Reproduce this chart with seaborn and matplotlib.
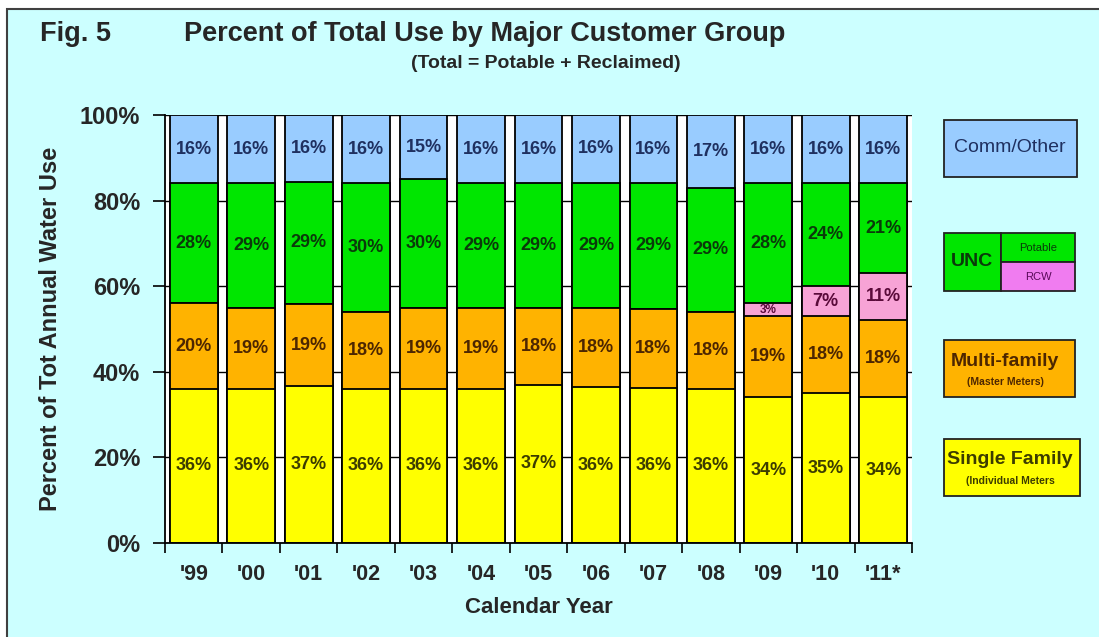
import matplotlib
matplotlib.use("Agg")
import matplotlib.pyplot as plt
from matplotlib.patches import Rectangle
import numpy as np
import pandas as pd
import seaborn as sns

# ---- data (percent of total annual water use) ----
years = ["'99", "'00", "'01", "'02", "'03", "'04", "'05", "'06", "'07", "'08", "'09", "'10", "'11*"]
single_family = [36, 36, 36.6, 36, 36, 36, 37, 36.4, 36.3, 36, 34, 35, 34]
multi_family = [20, 19, 19.2, 18, 19, 19, 18, 18.4, 18.4, 18, 19, 18, 18]
unc_rcw = [0, 0, 0, 0, 0, 0, 0, 0, 0, 0, 3, 7, 11]
unc_potable = [28, 29, 28.6, 30, 30, 29, 29, 29.4, 29.4, 29, 28, 24, 21]
comm_other = [16, 16, 15.6, 16, 15, 16, 16, 15.8, 15.9, 17, 16, 16, 16]
y_ticks = [0, 20, 40, 60, 80, 100]

W, H = 1099, 637
sns.set_theme(style="white")
plt.rcParams["font.family"] = ["Liberation Sans", "DejaVu Sans"]
NARROW = ["Liberation Sans Narrow", "Liberation Sans", "DejaVu Sans"]

BG = "#CCFFFF"
C_SF, C_MF, C_RCW, C_UNC, C_COMM = "#FFFF00", "#FFB300", "#F7A3D6", "#00E600", "#99CCFF"
T_SF, T_MF, T_RCW, T_UNC, T_COMM = "#3C3C00", "#4D2600", "#5A0A3A", "#0A3A0A", "#1F3060"

fig = plt.figure(figsize=(W / 100, H / 100), dpi=100, facecolor="white")


def fx(x):
    return x / W


def fy(y):
    return 1 - y / H


# panel background with its frame
fig.patches.append(Rectangle((fx(7), -0.02), 1.1, fy(9) + 0.02, transform=fig.transFigure,
                             facecolor=BG, edgecolor="#404040", linewidth=1.5, zorder=-5))

left, right, top, bottom = 165, 912, 115, 543
ax = fig.add_axes([fx(left), fy(bottom), fx(right) - fx(left), fy(top) - fy(bottom)])
ax.set_facecolor("white")

df = pd.DataFrame({
    "year": years,
    "sf": single_family,
    "mf": multi_family,
    "rcw": unc_rcw,
    "unc": unc_potable,
    "comm": comm_other,
})
df["c_sf"] = df["sf"]
df["c_mf"] = df["c_sf"] + df["mf"]
df["c_rcw"] = df["c_mf"] + df["rcw"]
df["c_unc"] = df["c_rcw"] + df["unc"]
df["c_comm"] = df["c_unc"] + df["comm"]

# stacked bars: draw cumulative totals from the top layer downwards
layers = [("c_comm", C_COMM), ("c_unc", C_UNC), ("c_rcw", C_RCW), ("c_mf", C_MF), ("c_sf", C_SF)]
for col, color in layers:
    sns.barplot(data=df, x="year", y=col, color=color, saturation=1, width=0.83,
                edgecolor="black", linewidth=1.3, errorbar=None, ax=ax, order=years)

# segment labels
segments = [("sf", "c_sf", T_SF), ("mf", "c_mf", T_MF), ("rcw", "c_rcw", T_RCW),
            ("unc", "c_unc", T_UNC), ("comm", "c_comm", T_COMM)]
for i in range(len(years)):
    for val_col, cum_col, tcol in segments:
        v = df.loc[i, val_col]
        if v <= 0:
            continue
        top_v = df.loc[i, cum_col]
        size = 8.5 if v < 5 else 13
        ax.text(i, top_v - v / 2, f"{v:.0f}%", ha="center", va="center",
                fontsize=size, fontweight="bold", color=tcol, zorder=5)

ax.set_ylim(0, 100)
ax.set_xlim(-0.5, len(years) - 0.5)
ax.set_yticks(y_ticks)
ax.set_yticklabels([f"{t}%" for t in y_ticks], fontsize=17, fontweight="bold")
ax.yaxis.grid(True, color="black", linewidth=1.0)
ax.xaxis.grid(False)
ax.set_axisbelow(True)
ax.tick_params(axis="y", direction="out", length=9, width=1.2, color="black", pad=9, left=True)

ax.set_xticks(range(len(years)))
ax.set_xticklabels(years, fontsize=15.5, fontweight="bold", family=NARROW)
ax.set_xticks(np.arange(-0.5, len(years), 1.0), minor=True)
ax.tick_params(axis="x", which="major", length=0, pad=15)
ax.tick_params(axis="x", which="minor", direction="out", length=7, width=1.2, color="black", bottom=True)

for s in ["top", "right"]:
    ax.spines[s].set_visible(False)
for s in ["left", "bottom"]:
    ax.spines[s].set_color("black")
    ax.spines[s].set_linewidth(1.3)

ax.set_xlabel("Calendar Year", fontsize=16, fontweight="bold", labelpad=9)
ax.set_ylabel("Percent of Tot Annual Water Use", fontsize=17, fontweight="bold", labelpad=13)

# titles
fig.text(fx(40), fy(34), "Fig. 5", fontsize=19.5, fontweight="bold", family=NARROW, va="center", ha="left")
fig.text(fx(485), fy(34), "Percent of Total Use by Major Customer Group", fontsize=19.5,
         fontweight="bold", family=NARROW, va="center", ha="center")
fig.text(fx(546), fy(64), "(Total = Potable + Reclaimed)", fontsize=14,
         fontweight="bold", family=NARROW, va="center", ha="center")


# key boxes on the right
def box(x0, y0, x1, y1, fc):
    fig.patches.append(Rectangle((fx(x0), fy(y1)), fx(x1) - fx(x0), fy(y0) - fy(y1),
                                 transform=fig.transFigure, facecolor=fc,
                                 edgecolor="#222222", linewidth=1.3, zorder=2))


box(944, 120, 1077, 177, C_COMM)
fig.text(fx(1010), fy(148), "Comm/Other", fontsize=14, color=T_COMM, ha="center", va="center")

box(944, 233, 1001, 291, C_UNC)
box(1001, 233, 1075, 262, C_UNC)
box(1001, 262, 1075, 291, "#F07CF0")
fig.text(fx(972), fy(262), "UNC", fontsize=14, fontweight="bold", color=T_UNC, ha="center", va="center")
fig.text(fx(1038), fy(248), "Potable", fontsize=8, color=T_UNC, ha="center", va="center")
fig.text(fx(1038), fy(277), "RCW", fontsize=8, color="#5A0A5A", ha="center", va="center")

box(944, 340, 1075, 397, C_MF)
fig.text(fx(1005), fy(361), "Multi-family", fontsize=14, fontweight="bold", color=T_MF, ha="center", va="center")
fig.text(fx(1005), fy(382), "(Master Meters)", fontsize=7.5, fontweight="bold", color=T_MF,
         ha="center", va="center")

box(944, 439, 1080, 496, C_SF)
fig.text(fx(1010), fy(460), "Single Family", fontsize=14, fontweight="bold", color=T_SF, ha="center", va="center")
fig.text(fx(1010), fy(481), "(Individual Meters", fontsize=7.5, fontweight="bold", color=T_SF,
         ha="center", va="center")

fig.savefig("out.png", dpi=100, facecolor=fig.get_facecolor())
